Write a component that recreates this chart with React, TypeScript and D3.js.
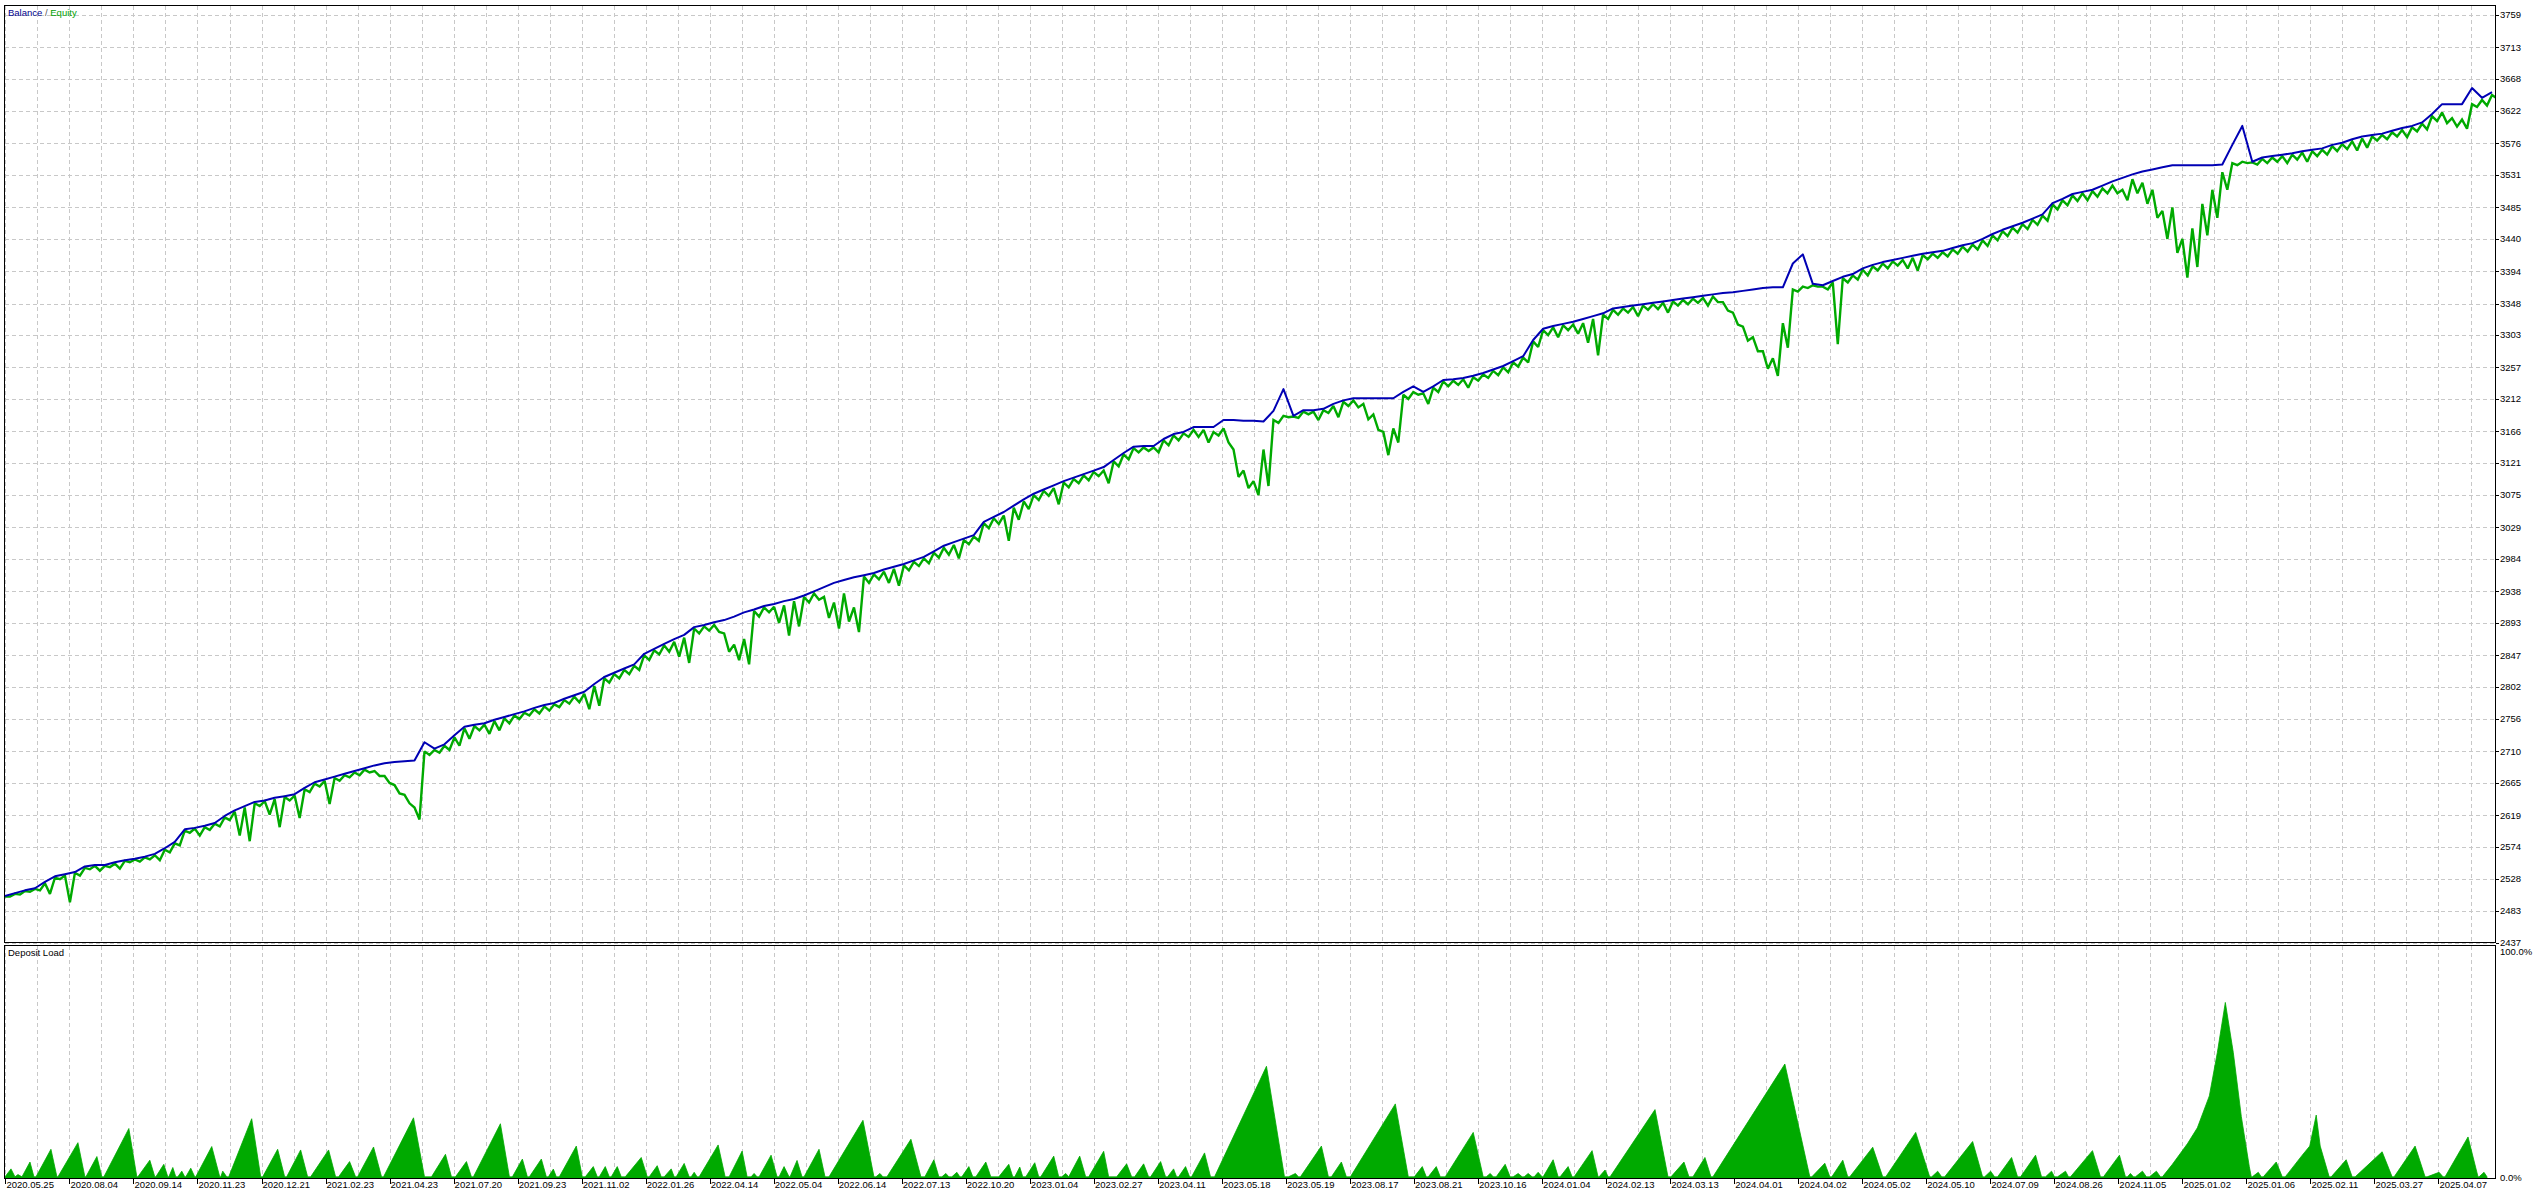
import React from "react";
import * as d3 from "d3";

// Balance values (one per time step, 250 steps)
const balance = [
  2504, 2508, 2512, 2515, 2524, 2532, 2535, 2538, 2546, 2548,
  2548, 2552, 2555, 2557, 2560, 2564, 2572, 2581, 2599, 2601,
  2604, 2608, 2618, 2626, 2632, 2638, 2640, 2644, 2646, 2649,
  2658, 2666, 2670, 2674, 2678, 2682, 2686, 2690, 2693, 2695,
  2696, 2697, 2723, 2714, 2720, 2733, 2745, 2748, 2750, 2755,
  2759, 2763, 2767, 2772, 2776, 2779, 2785, 2790, 2795, 2806,
  2816, 2822, 2828, 2834, 2849, 2856, 2863, 2870, 2876, 2887,
  2890, 2894, 2897, 2902, 2908, 2912, 2917, 2920, 2924, 2927,
  2932, 2938, 2944, 2950, 2954, 2958, 2961, 2964, 2969, 2973,
  2977, 2982, 2987, 2995, 3003, 3008, 3013, 3018, 3037, 3044,
  3051, 3060, 3069, 3077, 3083, 3089, 3095, 3100, 3105, 3110,
  3115, 3125, 3135, 3144, 3145, 3145, 3155, 3162, 3165, 3172,
  3172, 3172, 3182, 3182, 3181, 3181, 3180, 3195, 3226, 3188,
  3196, 3196, 3198, 3205, 3210, 3213, 3213, 3213, 3213, 3213,
  3222, 3230, 3222, 3230, 3239, 3240, 3242, 3245, 3249, 3254,
  3259, 3266, 3273, 3296, 3312, 3316, 3319, 3322, 3326, 3330,
  3334, 3341, 3343, 3345, 3347, 3349, 3351, 3353, 3355, 3357,
  3359, 3361, 3363, 3364, 3366, 3368, 3370, 3371, 3371, 3405,
  3418, 3376, 3374, 3380, 3386, 3390, 3398, 3403, 3407, 3410,
  3413, 3416, 3419, 3421, 3423, 3427, 3431, 3434, 3440, 3447,
  3453, 3458, 3463, 3469, 3475, 3491, 3497, 3504, 3507, 3510,
  3516, 3522, 3527, 3532, 3536, 3539, 3542, 3545, 3545, 3545,
  3545, 3545, 3546, 3574, 3601, 3550, 3556, 3558, 3560, 3562,
  3565, 3567, 3569, 3574, 3577, 3582, 3586, 3588, 3590, 3594,
  3598, 3601, 3606, 3618, 3632, 3632, 3632, 3655, 3641, 3649,
];

// Equity at the end of each time step
const equity = [
  2503, 2507, 2511, 2514, 2522, 2530, 2533, 2537, 2544, 2547,
  2547, 2550, 2554, 2556, 2559, 2562, 2570, 2579, 2597, 2600,
  2602, 2607, 2616, 2624, 2630, 2636, 2639, 2642, 2645, 2647,
  2656, 2664, 2668, 2672, 2676, 2680, 2684, 2682, 2675, 2662,
  2648, 2630, 2710, 2712, 2718, 2730, 2743, 2746, 2748, 2753,
  2757, 2761, 2765, 2770, 2774, 2777, 2783, 2788, 2792, 2803,
  2814, 2820, 2826, 2832, 2847, 2854, 2861, 2866, 2872, 2885,
  2888, 2890, 2878, 2862, 2870, 2910, 2915, 2916, 2918, 2924,
  2930, 2935, 2930, 2922, 2935, 2915, 2959, 2962, 2966, 2970,
  2975, 2980, 2985, 2993, 3000, 3004, 3011, 3016, 3035, 3042,
  3046, 3057, 3066, 3075, 3081, 3085, 3093, 3098, 3103, 3108,
  3110, 3123, 3133, 3142, 3143, 3143, 3153, 3160, 3163, 3168,
  3168, 3165, 3170, 3140, 3110, 3095, 3140, 3182, 3188, 3187,
  3194, 3194, 3196, 3202, 3208, 3210, 3205, 3190, 3165, 3170,
  3218, 3222, 3220, 3228, 3237, 3238, 3240, 3243, 3247, 3252,
  3257, 3264, 3271, 3294, 3310, 3314, 3317, 3318, 3320, 3326,
  3332, 3339, 3341, 3343, 3345, 3347, 3349, 3351, 3353, 3355,
  3356, 3358, 3350, 3335, 3315, 3300, 3280, 3270, 3320, 3368,
  3372, 3374, 3372, 3378, 3384, 3388, 3396, 3401, 3405, 3408,
  3410, 3413, 3417, 3419, 3421, 3425, 3429, 3432, 3438, 3445,
  3451, 3456, 3461, 3467, 3473, 3489, 3495, 3502, 3505, 3508,
  3512, 3516, 3510, 3525, 3520, 3510, 3480, 3485, 3440, 3455,
  3490, 3510, 3535, 3548, 3550, 3549, 3554, 3556, 3558, 3560,
  3563, 3565, 3567, 3572, 3575, 3579, 3583, 3586, 3588, 3592,
  3595, 3599, 3604, 3615, 3620, 3612, 3610, 3632, 3638, 3645,
];

// Lowest equity reached inside each time step
const equityLow = [
  2503, 2506, 2510, 2512, 2507, 2528, 2495, 2533, 2542, 2540,
  2545, 2543, 2552, 2553, 2556, 2555, 2566, 2576, 2594, 2590,
  2598, 2603, 2612, 2590, 2582, 2632, 2620, 2602, 2640, 2615,
  2652, 2660, 2635, 2668, 2673, 2676, 2680, 2675, 2665, 2650,
  2636, 2613, 2705, 2708, 2712, 2718, 2728, 2740, 2735, 2740,
  2750, 2756, 2761, 2764, 2768, 2773, 2778, 2780, 2770, 2775,
  2808, 2814, 2820, 2826, 2840, 2848, 2852, 2845, 2836, 2878,
  2882, 2880, 2852, 2840, 2834, 2902, 2908, 2893, 2875, 2888,
  2922, 2926, 2900, 2885, 2895, 2880, 2950, 2955, 2950, 2946,
  2968, 2974, 2978, 2986, 2990, 2985, 3005, 3010, 3028, 3034,
  3010, 3040, 3055, 3068, 3074, 3062, 3086, 3092, 3096, 3102,
  3092, 3116, 3126, 3136, 3138, 3136, 3146, 3153, 3158, 3158,
  3150, 3160, 3150, 3101, 3085, 3075, 3088, 3178, 3186, 3185,
  3190, 3182, 3192, 3186, 3202, 3200, 3183, 3168, 3132, 3150,
  3212, 3218, 3205, 3222, 3230, 3232, 3228, 3238, 3242, 3246,
  3250, 3258, 3264, 3286, 3303, 3300, 3310, 3305, 3292, 3274,
  3326, 3332, 3335, 3330, 3339, 3340, 3335, 3345, 3347, 3349,
  3345, 3350, 3338, 3318, 3295, 3280, 3255, 3245, 3285, 3365,
  3370, 3372, 3368, 3290, 3378, 3382, 3388, 3395, 3398, 3402,
  3398, 3395, 3411, 3413, 3415, 3419, 3422, 3425, 3430, 3438,
  3444, 3449, 3454, 3460, 3466, 3482, 3488, 3494, 3495, 3500,
  3505, 3505, 3495, 3505, 3490, 3470, 3440, 3420, 3385, 3400,
  3445, 3470, 3510, 3545, 3548, 3546, 3548, 3550, 3548, 3553,
  3550, 3558, 3560, 3565, 3568, 3566, 3570, 3580, 3582, 3586,
  3585, 3593, 3596, 3608, 3605, 3600, 3597, 3628, 3630, 3640,
];

// Deposit load (%) as [time position, load]; time runs 0..498 like the equity grid
const depositLoad: [number, number][] = [
  [0, 0.5], [1.2, 4], [2, 0.5], [2.6, 1.5], [3.4, 0.5], [5, 7], [5.8, 0.5],
  [6.2, 0.5], [9.2, 12.6], [10.4, 0.5], [10.6, 0.5], [14.6, 15.5], [16, 0.5],
  [16.2, 0.5], [18.4, 9.4], [19.4, 0.5], [19.8, 0.5], [24.8, 21.7], [26.4, 0.5],
  [26.6, 0.5], [29, 7.8], [30, 0.5], [30.2, 0.5], [31.8, 6], [32.6, 0.5],
  [32.8, 0.5], [33.6, 4.6], [34.2, 0.5], [34.6, 0.5], [35.4, 3], [36, 0.5],
  [36.2, 0.5], [37.2, 4.3], [38, 0.5], [38.2, 0.5], [41.4, 13.8], [43, 0.5],
  [43.2, 0.5], [43.6, 3], [44.4, 0.5], [44.8, 0.5], [49.4, 26], [51.2, 0.5],
  [51.6, 0.5], [54.6, 12.6], [56, 0.5], [56.4, 0.5], [59.2, 12.3], [60.6, 0.5],
  [61.2, 0.5], [64.8, 12.3], [66.2, 0.5], [66.8, 0.5], [69, 7.2], [70.2, 0.5],
  [70.6, 0.5], [73.8, 13.6], [75.4, 0.5], [75.8, 0.5], [81.8, 26.4], [84, 0.5],
  [85.4, 0.5], [88.2, 10.4], [89.4, 0.5], [90.2, 0.5], [92.4, 7.2], [93.4, 0.5],
  [93.8, 0.5], [99.2, 23.8], [101, 0.5], [101.6, 0.5], [103.6, 8.3], [104.6, 0.5],
  [105, 0.5], [107.4, 8.3], [108.4, 0.5], [108.8, 0.5], [109.8, 3.9], [110.4, 0.5],
  [111, 0.5], [114.4, 14], [115.6, 0.5], [116.2, 0.5], [117.8, 5], [118.6, 0.5],
  [119, 0.5], [120.2, 5], [121, 0.5], [121.4, 0.5], [122.6, 5], [123.4, 0.5],
  [124.2, 0.5], [127.4, 9], [128.6, 0.5], [129, 0.5], [130.6, 5.4], [131.4, 0.5],
  [132, 0.5], [133.4, 4], [134, 0.5], [134.4, 0.5], [136, 6.4], [137, 0.5],
  [137.4, 0.5], [138, 2.5], [138.6, 0.5], [139, 0.5], [142.8, 14.5], [144.2, 0.5],
  [145, 0.5], [147.6, 11.8], [148.6, 0.5], [149.4, 0.5], [150, 2], [150.6, 0.5],
  [151, 0.5], [153.4, 10], [154.6, 0.5], [155, 0.5], [156, 5], [157, 0.5],
  [157.2, 0.5], [158.6, 7.7], [159.6, 0.5], [160, 0.5], [163, 12.6], [164.2, 0.5],
  [165, 0.5], [171.8, 25.3], [174, 0.5], [174.4, 0.5], [175.2, 2], [175.8, 0.5],
  [176.6, 0.5], [181.4, 17], [183.4, 0.5], [184.2, 0.5], [186, 8], [187, 0.5],
  [187.6, 0.5], [188.4, 2], [189, 0.5], [189.6, 0.5], [190.6, 2.5], [191.2, 0.5],
  [191.6, 0.5], [193, 5], [193.8, 0.5], [194.4, 0.5], [196.4, 7], [197.4, 0.5],
  [199, 0.5], [201, 6], [201.8, 0.5], [202.2, 0.5], [203.2, 4.8], [203.8, 0.5],
  [204.4, 0.5], [206.2, 6.7], [207, 0.5], [207.4, 0.5], [210, 9.6], [211, 0.5],
  [211.6, 0.5], [212.4, 2], [213, 0.5], [215.2, 9.6], [216.4, 0.5],
  [217, 0.5], [220, 11.7], [221, 0.5], [222.6, 0.5], [224.6, 6.2], [225.6, 0.5],
  [226.2, 0.5], [228, 6.2], [229, 0.5], [229.4, 0.5], [231.4, 7.2], [232.4, 0.5],
  [232.8, 0.5], [234, 4], [234.6, 0.5], [235, 0.5], [236.4, 5], [237.2, 0.5],
  [237.6, 0.5], [240.2, 11], [241.4, 0.5], [242.2, 0.5], [252.6, 49], [256.2, 0.5],
  [257, 0.5], [258.4, 2], [259, 0.5], [259.4, 0.5], [263.6, 14], [265, 0.5],
  [265.6, 0.5], [267.6, 7], [268.6, 0.5], [269.4, 0.5], [278.4, 32.5], [281, 0.5],
  [282.2, 0.5], [283.8, 5], [284.6, 0.5], [285, 0.5], [286.6, 5], [287.4, 0.5],
  [288.4, 0.5], [294, 20], [296, 0.5], [296.6, 0.5], [297.4, 2], [298, 0.5],
  [298.6, 0.5], [300.4, 6], [301.4, 0.5], [302, 0.5], [303, 2], [303.8, 0.5],
  [304.2, 0.5], [305, 2], [305.8, 0.5], [306.2, 0.5], [307, 2.5], [307.8, 0.5],
  [308, 0.5], [310, 8], [311, 0.5], [311.4, 0.5], [313, 5], [313.8, 0.5],
  [314.2, 0.5], [317.8, 12], [319, 0.5], [319.2, 0.5], [320.4, 3.5], [321, 0.5],
  [321.4, 0.5], [330.4, 30], [333, 0.5], [333.6, 0.5], [336.2, 7], [337.2, 0.5],
  [338, 0.5], [340.4, 9], [341.6, 0.5], [342, 0.5], [356.4, 50], [361.4, 0.5],
  [361.8, 0.5], [364.4, 6.5], [365.4, 0.5], [365.8, 0.5], [368, 7.8], [369, 0.5],
  [369.4, 0.5], [374, 13.5], [376, 0.5], [376.6, 0.5], [382.6, 20], [385.4, 0.5],
  [385.8, 0.5], [387, 3], [387.8, 0.5], [388.4, 0.5], [394, 16], [396, 0.5],
  [396.4, 0.5], [397.6, 3], [398.4, 0.5], [399, 0.5], [401.8, 9], [403, 0.5],
  [403.6, 0.5], [406.6, 10], [407.8, 0.5], [408.6, 0.5], [409.8, 3], [410.4, 0.5],
  [411, 0.5], [412.6, 3], [413.2, 0.5], [413.6, 0.5], [418, 12], [419.6, 0.5],
  [420.2, 0.5], [423.4, 10], [424.6, 0.5], [425, 0.5], [425.6, 2], [426.2, 0.5],
  [426.6, 0.5], [428, 3], [428.8, 0.5], [429.4, 0.5], [430.8, 3], [431.6, 0.5],
  [432, 0.5], [434, 6], [437, 15], [439, 22], [441.4, 36], [443, 55], [444.6, 77],
  [446.2, 55], [447.8, 27], [449.4, 5], [449.8, 0.5], [450, 0.5], [451.2, 2.5],
  [451.8, 0.5], [452.2, 0.5], [454.8, 7], [456, 0.5], [456.6, 0.5], [460, 10],
  [461.5, 14], [462.8, 27.6], [463.6, 14], [465.4, 0.5], [465.8, 0.5], [468.8, 8],
  [470, 0.5], [470.6, 0.5], [476, 11.5], [478, 0.5], [478.4, 0.5], [482.6, 14],
  [484.6, 0.5], [485, 0.5], [487.4, 2.5], [488.2, 0.5], [488.6, 0.5], [493.2, 18],
  [495.2, 0.5], [495.4, 0.5], [496.4, 2.5], [497, 0.5],
];

const yTicks = [
  3759, 3713, 3668, 3622, 3576, 3531, 3485, 3440, 3394, 3348, 3303, 3257, 3212,
  3166, 3121, 3075, 3029, 2984, 2938, 2893, 2847, 2802, 2756, 2710, 2665, 2619,
  2574, 2528, 2483, 2437,
];

const xLabels = [
  "2020.05.25", "2020.08.04", "2020.09.14", "2020.11.23", "2020.12.21",
  "2021.02.23", "2021.04.23", "2021.07.20", "2021.09.23", "2021.11.02",
  "2022.01.26", "2022.04.14", "2022.05.04", "2022.06.14", "2022.07.13",
  "2022.10.20", "2023.01.04", "2023.02.27", "2023.04.11", "2023.05.18",
  "2023.05.19", "2023.08.17", "2023.08.21", "2023.10.16", "2024.01.04",
  "2024.02.13", "2024.03.13", "2024.04.01", "2024.04.02", "2024.05.02",
  "2024.05.10", "2024.07.09", "2024.08.26", "2024.11.05", "2025.01.02",
  "2025.01.06", "2025.02.11", "2025.03.27", "2025.04.07",
];

const FONT = "'Liberation Sans', Arial, sans-serif";
const BLUE = "#0000b4";
const GREEN = "#00aa00";
const GRID = "#c8c8c8";

export default function App() {
  const W = 2540;
  const H = 1195;
  const L = 4.5;
  const R = 2495.5;
  const T = 5.5;
  const MB = 942.5;
  const ST = 945.5;
  const SB = 1178.5;

  const x = d3.scaleLinear().domain([0, 498]).range([5, 2492]);
  const y = d3.scaleLinear().domain([2437, 3759]).range([943, 15]);
  const yDep = d3.scaleLinear().domain([0, 100]).range([1178, 950]);
  const xLab = d3.scalePoint<string>().domain(xLabels).range([5.4, 2438.5]);
  const half = xLab.step() / 2;
  const gridX = d3
    .range(0, xLabels.length * 2)
    .map((j) => (xLab(xLabels[0]) as number) + j * half)
    .filter((v) => v < R - 2);

  // equity path: end-of-step value, then the step's low
  const eqPts: [number, number][] = [];
  equity.forEach((v, i) => {
    eqPts.push([i * 2, v]);
    eqPts.push([i * 2 + 1, equityLow[i]]);
  });

  const balLine = d3.line<number>().x((_, i) => x(i * 2)).y((d) => y(d));
  const eqLine = d3.line<[number, number]>().x((d) => x(d[0])).y((d) => y(d[1]));
  const depArea = d3
    .area<[number, number]>()
    .x((d) => x(d[0]))
    .y0(yDep(0))
    .y1((d) => yDep(d[1]));

  const px = (v: number) => Math.round(v) + 0.5;

  return (
    <svg
      width={W}
      height={H}
      style={{ position: "absolute", left: 0, top: 0, background: "#fff" }}
      fontFamily={FONT}
    >
      <defs>
        <clipPath id="mainClip">
          <rect x={L} y={T} width={R - L} height={MB - T} />
        </clipPath>
        <clipPath id="subClip">
          <rect x={L} y={ST} width={R - L} height={SB - ST} />
        </clipPath>
      </defs>
      <rect x={0} y={0} width={W} height={H} fill="#fff" />

      {/* grid */}
      <g stroke={GRID} strokeDasharray="4,3" shapeRendering="crispEdges">
        {gridX.map((gx, j) => (
          <line key={"vm" + j} x1={px(gx)} x2={px(gx)} y1={T} y2={MB} />
        ))}
        {yTicks.map((t) => (
          <line key={"h" + t} x1={L} x2={R} y1={px(y(t))} y2={px(y(t))} />
        ))}
        {gridX.map((gx, j) => (
          <line key={"vs" + j} x1={px(gx)} x2={px(gx)} y1={ST} y2={SB} />
        ))}
      </g>

      {/* equity & balance */}
      <g clipPath="url(#mainClip)">
        <path d={eqLine(eqPts) || ""} fill="none" stroke={GREEN} strokeWidth={2.4} strokeLinejoin="miter" strokeMiterlimit={2} />
        <path d={balLine(balance) || ""} fill="none" stroke={BLUE} strokeWidth={2} strokeLinejoin="round" />
      </g>

      {/* deposit load */}
      <g clipPath="url(#subClip)">
        <path d={depArea(depositLoad) || ""} fill={GREEN} stroke={GREEN} strokeWidth={0.8} />
      </g>

      {/* frames */}
      <g fill="none" stroke="#000" strokeWidth={1} shapeRendering="crispEdges">
        <rect x={L} y={T} width={R - L} height={MB - T} />
        <rect x={L} y={ST} width={R - L} height={SB - ST} />
      </g>

      {/* y axis ticks + labels */}
      <g fontSize={9.5} fill="#000">
        {yTicks.map((t) => (
          <g key={"yt" + t}>
            <line x1={R} x2={R + 3} y1={px(y(t))} y2={px(y(t))} stroke="#000" shapeRendering="crispEdges" />
            <text x={2500} y={y(t)} dy="0.35em">
              {t}
            </text>
          </g>
        ))}
        <text x={2500} y={952} dy="0.35em">100.0%</text>
        <text x={2500} y={1178} dy="0.35em">0.0%</text>
      </g>

      {/* x axis ticks + labels */}
      <g fontSize={9.5} fill="#000">
        {xLabels.map((lab) => {
          const lx = xLab(lab) as number;
          return (
            <g key={lab}>
              <line x1={px(lx)} x2={px(lx)} y1={SB} y2={SB + 5} stroke="#000" shapeRendering="crispEdges" />
              <text x={lx + 1} y={1188}>
                {lab}
              </text>
            </g>
          );
        })}
      </g>

      {/* titles */}
      <text x={8} y={15.5} fontSize={9.5}>
        <tspan fill="#00008b">Balance</tspan>
        <tspan fill="#555"> / </tspan>
        <tspan fill="#00a000">Equity</tspan>
      </text>
      <text x={8} y={956} fontSize={9.5} fill="#000">
        Deposit Load
      </text>
    </svg>
  );
}
